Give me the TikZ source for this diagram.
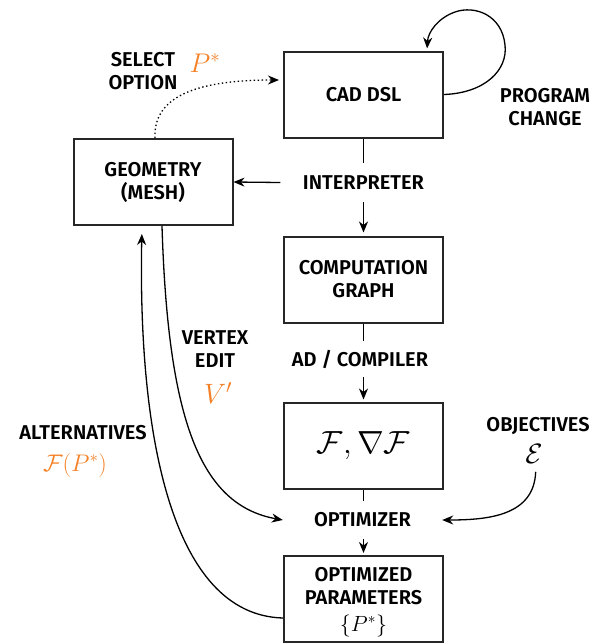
\RequirePackage{fix-cm}
\documentclass[tikz,border=0pt]{standalone}
\usepackage{fontspec}
\setmainfont{Fira Sans}[UprightFont=* SemiBold]
\usetikzlibrary{arrows.meta}
\definecolor{orng}{RGB}{245,128,37}
\begin{document}
\begin{tikzpicture}[x=1pt,y=-1pt,
 box/.style={draw=black!85, line width=2pt, minimum width=159pt, minimum height=86pt, align=center, font=\fontsize{20}{23}\selectfont, inner sep=0pt},
 lbl/.style={align=center, font=\fontsize{20}{23}\selectfont, inner sep=0pt},
 mlbl/.style={text=orng, inner sep=0pt},
 conn/.style={line width=1.3pt},
 arr/.style={conn, -{Stealth[length=11pt,width=9pt,inset=3.5pt]}},
 dots/.style={arr, dash pattern=on 1.4pt off 2.6pt},
]
\useasboundingbox (0,0) rectangle (605,643);
% boxes
\node[box] (cad) at (363.5,94.5) {CAD DSL};
\node[box] (geom) at (153,182) {GEOMETRY\\(MESH)};
\node[box] (comp) at (363.5,279.5) {COMPUTATION\\GRAPH};
\node[box] (fbox) at (363.5,445.5) {\fontsize{32}{36}\selectfont$\mathcal{F},\nabla\mathcal{F}$};
\node[box] (opt) at (363.5,599) {\rule{0pt}{20pt}OPTIMIZED\\PARAMETERS\\[4pt]\fontsize{22}{24}\selectfont$\{P^*\}$};
% edge labels
\node[lbl, minimum width=166pt, minimum height=39pt] (interp) at (363.5,182.5) {INTERPRETER};
\node[lbl, minimum height=36pt] (adc) at (360,359) {AD / COMPILER};
\node[lbl, minimum width=159pt, minimum height=38pt] (optz) at (362.5,520) {OPTIMIZER};
\node[lbl] (sel) at (143,71) {SELECT\\OPTION};
\node[mlbl] (pstar) at (205,63) {\fontsize{27}{30}\selectfont$P^*$};
\node[lbl] (prog) at (545,107) {PROGRAM\\CHANGE};
\node[lbl] (vert) at (215,349) {VERTEX\\EDIT};
\node[mlbl] (vp) at (218,393) {\fontsize{28}{30}\selectfont$V'$};
\node[lbl] (alt) at (83,433) {ALTERNATIVES};
\node[mlbl] (fp) at (75,465) {\fontsize{24}{26}\selectfont$\mathcal{F}(P^*)$};
\node[lbl] (obj) at (538,426) {OBJECTIVES};
\node[inner sep=0pt] (eps) at (534,454) {\fontsize{28}{30}\selectfont$\mathcal{E}$};
% main flow
\draw[conn] (cad.south) -- (cad.south |- interp.north);
\draw[arr, shorten >=3pt] (comp.north |- interp.south) -- (comp.north);
\draw[arr] (interp.west) -- (geom.east);
\draw[conn] (comp.south) -- (comp.south |- adc.north);
\draw[arr, shorten >=2pt] (fbox.north |- adc.south) -- (fbox.north);
\draw[conn] (fbox.south) -- (fbox.south |- optz.north);
\draw[arr, shorten >=2pt] (opt.north |- optz.south) -- (opt.north);
% self loop
\draw[arr, shorten >=2pt] (cad.east) .. controls (485,93) and (508,70) .. (505,45)
  .. controls (502,15) and (475,5) .. (455,12)
  .. controls (438,18) and (428,32) .. ([xshift=63.5pt]cad.north);
% dotted select
\draw[dots, shorten >=4pt] ([xshift=2pt]geom.north) .. controls (153,95) and (200,80) .. ([yshift=14.5pt]cad.west);
% vertex edit
\draw[arr] ([xshift=9pt]geom.south) .. controls (168,420) and (200,505) .. (optz.west);
% alternatives
\draw[arr, shorten >=8pt] ([yshift=-19pt]opt.west) .. controls (170,615) and (138,430) .. ([xshift=-11pt]geom.south);
% objectives
\draw[arr, shorten <=8pt] ([xshift=2pt]eps.south) .. controls (534,515) and (490,520) .. (optz.east);
\end{tikzpicture}
\end{document}
